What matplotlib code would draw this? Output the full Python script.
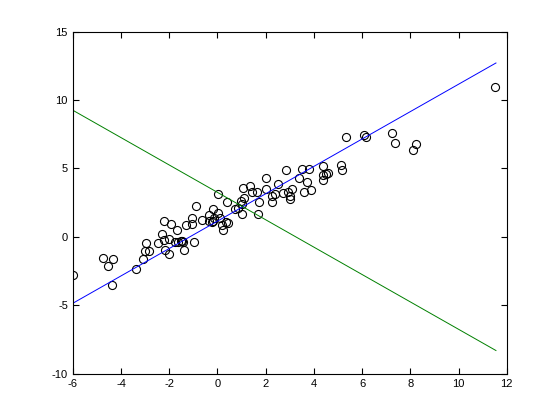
import matplotlib
matplotlib.use("Agg")
import matplotlib.pyplot as plt
import numpy as np

""" Data (read off the reference) """
x = np.array([-5.98, -4.73, -4.32, -4.52, -4.36, -3.36, -3.07, -2.95, -3.0, -2.86,
              -2.45, -2.31, -2.23, -2.17, -2.2, -2.03, -2.0, -1.91, -1.66, -1.76,
              -1.62, -1.51, -1.45, -1.37, -1.29, -1.04, -1.04, -0.96, -0.87, -0.65,
              -0.35, -0.35, -0.23, -0.18, -0.14, 0.1, 0.18, 0.23, 0.35, 0.45,
              0.04, 0.41, 0.73, 0.87, 0.97, 1.03, 1.1, 1.03, 1.06, 1.35,
              1.42, 1.66, 1.73, 2.03, 2.03, 1.7, 2.25, 2.28, 2.49, 2.39,
              2.72, 2.86, 2.94, 3.0, 3.0, 3.11, 3.39, 3.5, 3.59, 3.8,
              3.73, 3.87, 4.38, 4.38, 4.38, 4.52, 5.35, 6.08, 6.18, 7.23,
              7.37, 5.12, 5.16, 4.6, 8.23, 8.13, 11.52, -1.48, -0.2, 0.04])
y = np.array([-2.79, -1.57, -1.62, -2.16, -3.53, -2.35, -1.62, -0.47, -1.03, -1.03,
              -0.45, 0.24, -0.23, -0.94, 1.19, -0.15, -1.25, 0.92, 0.53, -0.35,
              -0.35, -0.28, -0.4, -0.94, 0.87, 1.36, 0.94, -0.35, 2.24, 1.26,
              1.6, 1.19, 1.11, 2.05, 1.36, 1.36, 0.87, 0.53, 1.07, 1.02,
              3.15, 2.58, 2.05, 2.1, 2.65, 2.41, 2.83, 1.68, 3.56, 3.75,
              3.31, 3.27, 2.58, 3.51, 4.3, 1.68, 3.02, 2.54, 3.88, 3.15,
              3.22, 4.85, 3.27, 3.02, 2.78, 3.51, 4.3, 4.93, 3.27, 4.98,
              4.0, 3.39, 5.18, 4.49, 4.12, 4.61, 7.3, 7.47, 7.3, 7.6,
              6.88, 5.27, 4.9, 4.68, 6.81, 6.35, 10.97, -0.32, 1.15, 1.77])

# fitted directions, drawn between the min and max x of the data
line_x = [-6.0, 11.55]
blue_y = [-4.85, 12.7]
green_y = [9.25, -8.3]

""" Plot """
plt.rcParams["axes.unicode_minus"] = False
plt.rcParams["font.family"] = ["Liberation Sans", "DejaVu Sans"]

fig = plt.figure(figsize=(5.6, 4.2), dpi=100)
ax = fig.add_axes([0.13, 0.11, 0.775, 0.815])

ax.plot(x, y, "o", mfc="none", mec="black", ms=5.8, mew=0.8)
ax.plot(line_x, blue_y, color=(0, 0, 1), lw=0.7)
ax.plot(line_x, green_y, color=(0, 0.5, 0), lw=0.7)

ax.set_xlim(-6, 12)
ax.set_ylim(-10, 15)
ax.set_xticks(np.arange(-6, 13, 2))
ax.set_yticks(np.arange(-10, 16, 5))
ax.tick_params(direction="in", top=True, right=True, labelsize=8, length=4, width=0.8)
for s in ax.spines.values():
    s.set_linewidth(0.8)

fig.savefig("out.png", dpi=100)
